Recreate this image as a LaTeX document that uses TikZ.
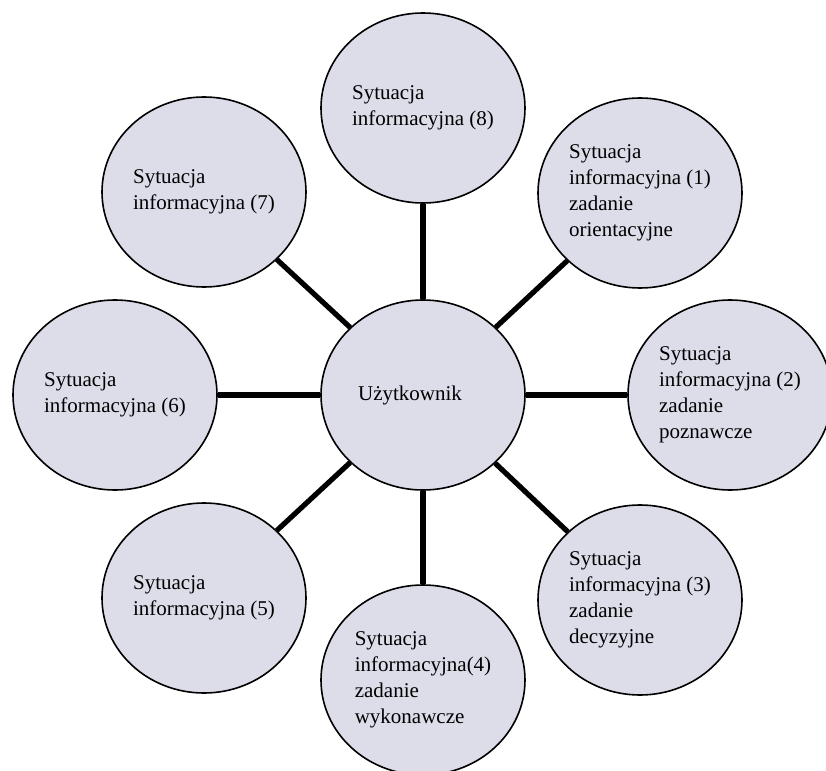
\documentclass[tikz,border=0pt]{standalone}
\usepackage{fontspec}
\setmainfont{Liberation Serif}
\usetikzlibrary{shapes.geometric}
\definecolor{bubble}{RGB}{220,221,233}

\begin{document}
\begin{tikzpicture}[x=0.5pt, y=-0.5pt,
    sytuacja/.style={ellipse, draw=black, line width=0.8pt, fill=bubble,
      minimum width=102pt, minimum height=95pt, inner sep=0pt,
      align=left, font=\fontsize{10.5}{13}\selectfont},
    lacznik/.style={line width=2.6pt, black}]
  \useasboundingbox (0,0) rectangle (826,771);

  % Użytkownik w środku
  \node[sytuacja] (U) at (423,395) {Użytkownik\hspace*{13pt}};

  % Sytuacje informacyjne
  \node[sytuacja] (S8) at (423,108) {Sytuacja\\informacyjna (8)};
  \node[sytuacja] (S1) at (640,193) {Sytuacja\\informacyjna (1)\\zadanie\\orientacyjne};
  \node[sytuacja] (S2) at (730,395) {Sytuacja\\informacyjna (2)\\zadanie\\poznawcze};
  \node[sytuacja] (S3) at (640,600) {Sytuacja\\informacyjna (3)\\zadanie\\decyzyjne};
  \node[sytuacja] (S4) at (423,680) {Sytuacja\\informacyjna(4)\\zadanie\\wykonawcze};
  \node[sytuacja] (S5) at (204,598) {Sytuacja\\informacyjna (5)};
  \node[sytuacja] (S6) at (115,395) {Sytuacja\\informacyjna (6)};
  \node[sytuacja] (S7) at (204,192) {Sytuacja\\informacyjna (7)};

  % Łączniki
  \foreach \s in {1,...,8}
    \draw[lacznik] (U) -- (S\s);
\end{tikzpicture}
\end{document}
